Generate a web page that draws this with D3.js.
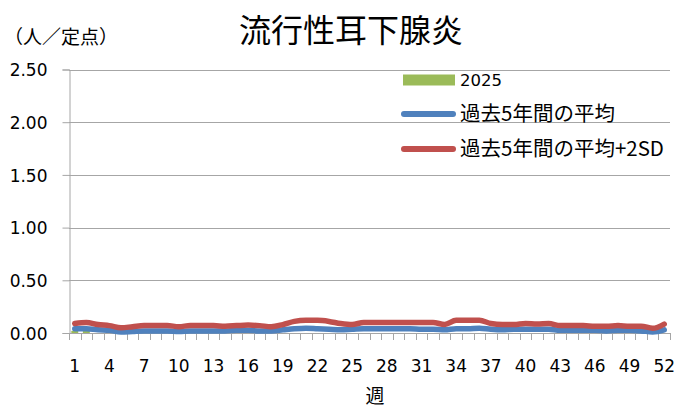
<!DOCTYPE html>
<html><head><meta charset="utf-8">
<script src="https://cdn.jsdelivr.net/npm/d3@7"></script>
<style>body{margin:0;background:#fff}</style>
</head><body>
<svg id="c" width="680" height="410"></svg>
<script>
const weeks = [1,2,3,4,5,6,7,8,9,10,11,12,13,14,15,16,17,18,19,20,21,22,23,24,25,26,
  27,28,29,30,31,32,33,34,35,36,37,38,39,40,41,42,43,44,45,46,47,48,49,50,51,52];
const xLabelWeeks = [1,4,7,10,13,16,19,22,25,28,31,34,37,40,43,46,49,52];
const yTicks = [0,0.5,1.0,1.5,2.0,2.5];
const series2025 = [0.02,0.02];
const avg5 = [0.04,0.04,0.03,0.025,0.01,0.015,0.02,0.02,0.02,0.015,0.02,0.02,0.02,0.02,0.025,0.025,
  0.02,0.02,0.03,0.04,0.045,0.04,0.035,0.03,0.035,0.04,0.04,0.04,0.04,0.04,0.035,0.035,0.03,0.04,
  0.04,0.045,0.035,0.03,0.035,0.035,0.035,0.035,0.025,0.025,0.025,0.025,0.02,0.025,0.025,0.02,0.01,0.03];
const avg5sd2 = [0.09,0.10,0.08,0.07,0.05,0.06,0.07,0.07,0.07,0.06,0.07,0.07,0.07,0.065,0.07,0.075,
  0.07,0.06,0.08,0.11,0.12,0.12,0.11,0.09,0.08,0.10,0.10,0.10,0.10,0.10,0.10,0.10,0.08,0.12,
  0.12,0.12,0.09,0.08,0.08,0.09,0.085,0.09,0.07,0.07,0.07,0.065,0.065,0.07,0.065,0.065,0.045,0.085];
const legendLabels = ["2025","過去5年間の平均","過去5年間の平均+2SD"];
const colors = {bar:"#9BBB59", avg:"#4F81BD", sd:"#C0504D", axis:"#a6a6a6"};

const svg = d3.select("#c");
const x = d3.scaleBand().domain(weeks).range([69,670]).paddingInner(0).paddingOuter(0);
const y = d3.scaleLinear().domain([0,2.5]).range([333,69.5]);
const numFont = "'DejaVu Sans', sans-serif";
const cjkFont = "'Noto Sans CJK JP', sans-serif";

// gridlines
svg.append("g").selectAll("line").data(yTicks.filter(d=>d>0)).join("line")
  .attr("x1",69).attr("x2",670).attr("y1",d=>Math.round(y(d))+0.5).attr("y2",d=>Math.round(y(d))+0.5)
  .attr("stroke",colors.axis).attr("stroke-width",1);

// y axis
const yAxis = svg.append("g").attr("transform","translate(69.5,0)")
  .call(d3.axisLeft(y).tickValues(yTicks).tickFormat(d3.format(".2f")).tickSize(7).tickPadding(15));
yAxis.select(".domain").attr("stroke",colors.axis);
yAxis.selectAll(".tick line").attr("stroke",colors.axis);
yAxis.selectAll(".tick text").attr("font-family",numFont).attr("font-size",17).attr("fill","#000")
  .attr("dy","0.36em");

// x axis
const bounds = [...weeks.map(w=>x(w)), x.range()[1]];
svg.append("line").attr("x1",69).attr("x2",670).attr("y1",333.5).attr("y2",333.5).attr("stroke",colors.axis);
svg.append("g").selectAll("line").data(bounds).join("line")
  .attr("x1",d=>Math.round(d)+0.5).attr("x2",d=>Math.round(d)+0.5).attr("y1",333).attr("y2",340)
  .attr("stroke",colors.axis);
svg.append("g").selectAll("text").data(xLabelWeeks).join("text")
  .attr("x",d=>x(d)+x.bandwidth()/2).attr("y",366).attr("dy","0.36em")
  .attr("text-anchor","middle").attr("font-family",numFont).attr("font-size",17).text(d=>d);

// bars
const bw = x.bandwidth()*0.6;
svg.append("g").selectAll("rect").data(series2025.map((v,i)=>({w:weeks[i],v}))).join("rect")
  .attr("x",d=>x(d.w)+(x.bandwidth()-bw)/2).attr("width",bw)
  .attr("y",d=>y(d.v)).attr("height",d=>y(0)-y(d.v)).attr("fill",colors.bar);

// lines
const line = d3.line().x((d,i)=>x(weeks[i])+x.bandwidth()/2).y(d=>y(d)).curve(d3.curveMonotoneX);
svg.append("path").datum(avg5).attr("d",line).attr("fill","none").attr("stroke",colors.avg)
  .attr("stroke-width",5.5).attr("stroke-linejoin","round").attr("stroke-linecap","round");
svg.append("path").datum(avg5sd2).attr("d",line).attr("fill","none").attr("stroke",colors.sd)
  .attr("stroke-width",5.5).attr("stroke-linejoin","round").attr("stroke-linecap","round");

// legend
const lg = svg.append("g");
lg.append("rect").attr("x",403).attr("y",74.5).attr("width",52).attr("height",11).attr("fill",colors.bar);
lg.append("line").attr("x1",404).attr("x2",453).attr("y1",114).attr("y2",114)
  .attr("stroke",colors.avg).attr("stroke-width",6).attr("stroke-linecap","round");
lg.append("line").attr("x1",404).attr("x2",453).attr("y1",149).attr("y2",149)
  .attr("stroke",colors.sd).attr("stroke-width",6).attr("stroke-linecap","round");
lg.append("text").attr("x",460).attr("y",80).attr("dy","0.36em").attr("font-family",numFont)
  .attr("font-size",16.5).text(legendLabels[0]);
[legendLabels[1],legendLabels[2]].forEach((t,i)=>{
  lg.append("text").attr("x",460).attr("y",[114,149][i]).attr("dy","0.36em")
    .attr("font-family",cjkFont).attr("font-size",20.5).text(t);
});

// titles
svg.append("text").attr("x",351).attr("y",30).attr("dy","0.38em").attr("text-anchor","middle")
  .attr("font-family",cjkFont).attr("font-size",32).text("流行性耳下腺炎");
svg.append("text").attr("x",4).attr("y",37).attr("dy","0.38em")
  .attr("font-family",cjkFont).attr("font-size",19).text("（人／定点）");
svg.append("text").attr("x",375).attr("y",396).attr("dy","0.36em").attr("text-anchor","middle")
  .attr("font-family",cjkFont).attr("font-size",19).text("週");
</script>
</body></html>
